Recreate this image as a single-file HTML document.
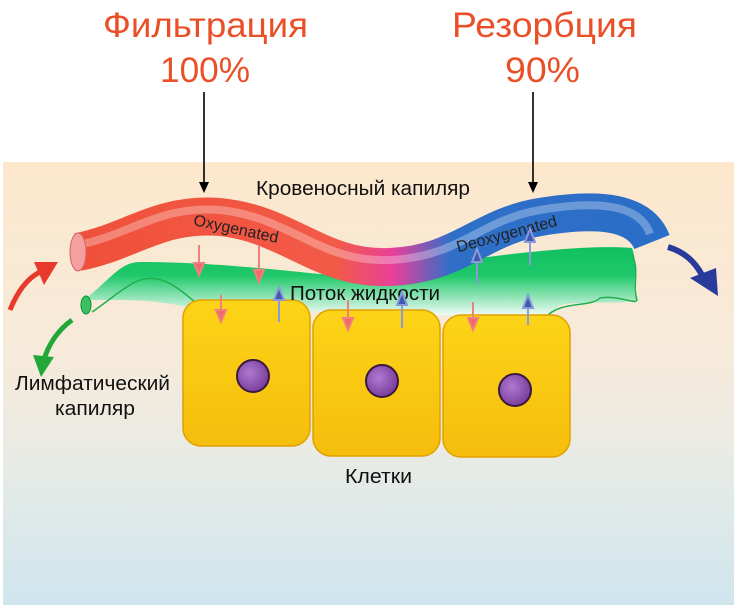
<!DOCTYPE html>
<html><head><meta charset="utf-8"><style>
html,body{margin:0;padding:0;background:#fff;}
svg{display:block;}
text{font-family:"Liberation Sans","DejaVu Sans",sans-serif;}
</style></head><body>
<svg width="740" height="607" viewBox="0 0 740 607" xmlns="http://www.w3.org/2000/svg">
<defs>
<linearGradient id="bg" x1="0" y1="0" x2="0" y2="1">
<stop offset="0" stop-color="#fde8cc"/>
<stop offset="0.45" stop-color="#f6eadb"/>
<stop offset="0.7" stop-color="#e6ebe6"/>
<stop offset="1" stop-color="#cfe5ee"/>
</linearGradient>
<linearGradient id="gr" x1="0" y1="0" x2="0" y2="1">
<stop offset="0" stop-color="#10c060"/>
<stop offset="0.4" stop-color="#1fc86a"/>
<stop offset="1" stop-color="#ffffff"/>
</linearGradient>
<linearGradient id="tube" x1="0" y1="0" x2="1" y2="0">
<stop offset="0" stop-color="#f0503a"/>
<stop offset="0.45" stop-color="#f25a48"/>
<stop offset="0.55" stop-color="#e8409a"/>
<stop offset="0.65" stop-color="#2f6fc8"/>
<stop offset="1" stop-color="#2a6ec8"/>
</linearGradient>
<linearGradient id="cell" x1="0" y1="0" x2="0" y2="1">
<stop offset="0" stop-color="#fcd417"/>
<stop offset="1" stop-color="#f6bd0c"/>
</linearGradient>
<radialGradient id="nuc" cx="0.4" cy="0.4" r="0.6">
<stop offset="0" stop-color="#b07ad0"/>
<stop offset="1" stop-color="#7a3f9c"/>
</radialGradient>
</defs>
<rect x="3" y="162" width="731" height="443" fill="url(#bg)"/>
<!-- titles -->
<text x="103" y="37" font-size="35" fill="#ea5028" textLength="205" lengthAdjust="spacingAndGlyphs">Фильтрация</text>
<text x="160" y="82" font-size="35" fill="#ea5028" textLength="90" lengthAdjust="spacingAndGlyphs">100%</text>
<text x="452" y="37" font-size="35" fill="#ea5028" textLength="185" lengthAdjust="spacingAndGlyphs">Резорбция</text>
<text x="505" y="82" font-size="35" fill="#ea5028" textLength="75" lengthAdjust="spacingAndGlyphs">90%</text>
<g stroke="#000" stroke-width="1.6"><line x1="204" y1="92" x2="204" y2="186"/><line x1="533" y1="92" x2="533" y2="186"/></g>
<polygon points="199,182 209,182 204,193" fill="#000"/>
<polygon points="528,182 538,182 533,193" fill="#000"/>
<text x="256" y="195" font-size="20" fill="#111" textLength="214" lengthAdjust="spacingAndGlyphs">Кровеносный капиляр</text>
<!-- green interstitial -->
<path d="M84,300 C110,280 120,262 140,262 C200,262 260,268 300,272 C360,280 420,268 480,258 C540,250 600,245 632,248 C640,270 630,290 637,300 C620,305 590,300 560,305 L545,318 L190,308 C160,300 130,300 110,300 Z" fill="url(#gr)"/>
<path d="M92,312 C110,300 120,290 135,282 C160,270 180,290 195,302" fill="none" stroke="#20b050" stroke-width="1.5"/>
<path d="M545,318 C560,300 590,308 600,298 C620,295 635,305 637,300 C632,285 640,270 632,255" fill="none" stroke="#20b050" stroke-width="1.5"/>
<ellipse cx="86" cy="305" rx="5" ry="9" fill="#3cc060" stroke="#109040"/>
<!-- capillary tube -->
<path d="M78,252 C130,242 160,212 220,217 C290,224 320,270 390,267 C460,264 480,227 540,217 C600,207 640,212 652,242" fill="none" stroke="url(#tube)" stroke-width="38" stroke-linecap="butt"/>
<path d="M78,245 C130,235 160,205 220,210 C290,217 320,263 390,260 C460,257 480,220 540,210 C600,200 640,205 650,234" fill="none" stroke="#fff" stroke-opacity="0.3" stroke-width="8"/>
<ellipse cx="78" cy="252" rx="8" ry="19" fill="#f5a0a0" stroke="#d96060"/>
<text x="235" y="234" font-size="16" fill="#222" text-anchor="middle" transform="rotate(12 235 234)">Oxygenated</text>
<text x="508" y="239" font-size="16" fill="#222" text-anchor="middle" transform="rotate(-15 508 239)">Deoxygenated</text>
<!-- cells -->
<g fill="url(#cell)" stroke="#e0a000" stroke-width="1.5">
<rect x="183" y="300" width="127" height="146" rx="18"/>
<rect x="313" y="310" width="127" height="146" rx="18"/>
<rect x="443" y="315" width="127" height="142" rx="18"/>
</g>
<g fill="url(#nuc)" stroke="#3a1840" stroke-width="2">
<circle cx="253" cy="376" r="16"/><circle cx="382" cy="381" r="16"/><circle cx="515" cy="390" r="16"/>
</g>
<text x="290" y="300" font-size="20" fill="#111" textLength="150" lengthAdjust="spacingAndGlyphs">Поток жидкости</text>
<text x="15" y="390" font-size="20" fill="#111" textLength="155" lengthAdjust="spacingAndGlyphs">Лимфатический</text>
<text x="55" y="415" font-size="20" fill="#111" textLength="80" lengthAdjust="spacingAndGlyphs">капиляр</text>
<text x="345" y="483" font-size="20" fill="#111" textLength="67" lengthAdjust="spacingAndGlyphs">Клетки</text>
<!-- small arrows -->
<g stroke-width="2">
<g stroke="#f08080" fill="#f06a6a">
<line x1="199" y1="245" x2="199" y2="265"/><polygon points="194,263 204,263 199,275"/>
<line x1="259" y1="245" x2="259" y2="272"/><polygon points="254,270 264,270 259,282"/>
<line x1="221" y1="295" x2="221" y2="312"/><polygon points="216,310 226,310 221,322"/>
<line x1="348" y1="300" x2="348" y2="320"/><polygon points="343,318 353,318 348,330"/>
<line x1="473" y1="302" x2="473" y2="320"/><polygon points="468,318 478,318 473,330"/>
</g>
<g stroke="#8a9ad8" fill="#3f58b0">
<line x1="279" y1="300" x2="279" y2="322"/><polygon points="274,300 284,300 279,287"/>
<line x1="402" y1="305" x2="402" y2="328"/><polygon points="397,305 407,305 402,292"/>
<line x1="477" y1="260" x2="477" y2="285"/><polygon points="472,262 482,262 477,249"/>
<line x1="530" y1="240" x2="530" y2="265"/><polygon points="525,242 535,242 530,229"/>
<line x1="528" y1="305" x2="528" y2="325"/><polygon points="523,308 533,308 528,295"/>
</g>
</g>
<!-- flow arrows -->
<path d="M10,310 C18,290 28,278 40,272" fill="none" stroke="#e83a2a" stroke-width="5"/>
<polygon points="34,262 58,262 44,285" fill="#e83a2a"/>
<path d="M72,320 C58,330 48,345 44,360" fill="none" stroke="#22a838" stroke-width="5"/>
<polygon points="33,355 54,357 41,377" fill="#22a838"/>
<path d="M668,247 C685,252 695,262 702,275" fill="none" stroke="#283a9a" stroke-width="6"/>
<polygon points="690,278 716,268 718,296" fill="#283a9a"/>
</svg>
</body></html>
